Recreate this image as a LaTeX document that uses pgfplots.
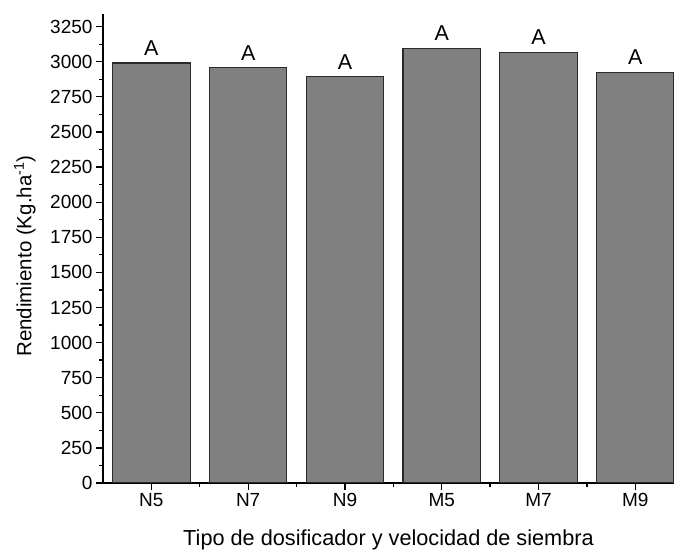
\documentclass[border=0pt]{standalone}
\usepackage{pgfplots}
\pgfplotsset{compat=1.18}
\usepackage{fontspec}
\setmainfont{Liberation Sans}
\definecolor{barfill}{HTML}{808080}
\definecolor{baredge}{HTML}{2A2A2A}
\begin{document}
\begin{tikzpicture}
\useasboundingbox (0,0) rectangle (674pt,551pt);
\begin{axis}[
  at={(103pt,68pt)}, anchor=south west,
  scale only axis, width=571pt, height=469pt,
  xmin=-0.5, xmax=5.4, ymin=0, ymax=3340,
  axis lines=left,
  axis line style={-, line width=1.3pt, black},
  ybar, bar width=0.8, bar shift=0pt,
  xtick={0,1,2,3,4,5}, xticklabels={N5,N7,N9,M5,M7,M9},
  minor xtick={0.5,1.5,2.5,3.5,4.5},
  ytick={0,250,...,3250}, minor y tick num=1,
  tick align=outside, major tick length=7pt, minor tick length=4pt,
  tick style={black, line width=1.3pt},
  /pgf/number format/assume math mode=true,
  /pgf/number format/1000 sep={},
  ticklabel style={font=\fontsize{19}{19}\selectfont},
  xlabel={Tipo de dosificador y velocidad de siembra},
  ylabel={Rendimiento (Kg.ha\textsuperscript{-1})},
  xlabel style={font=\fontsize{21.7}{21.7}\selectfont, at={(axis description cs:0.50,-0.121)}, anchor=center},
  ylabel style={font=\fontsize{20.5}{20.5}\selectfont, at={(axis description cs:-0.137,0.484)}, anchor=center},
  nodes near coords={A},
  every node near coord/.append style={font=\fontsize{21.5}{21.5}\selectfont, black, yshift=4pt},
]
\addplot[fill=barfill, draw=baredge, line width=1.1pt] coordinates {
  (0,2991) (1,2956) (2,2892) (3,3093) (4,3065) (5,2924)
};
\end{axis}
\end{tikzpicture}
\end{document}
